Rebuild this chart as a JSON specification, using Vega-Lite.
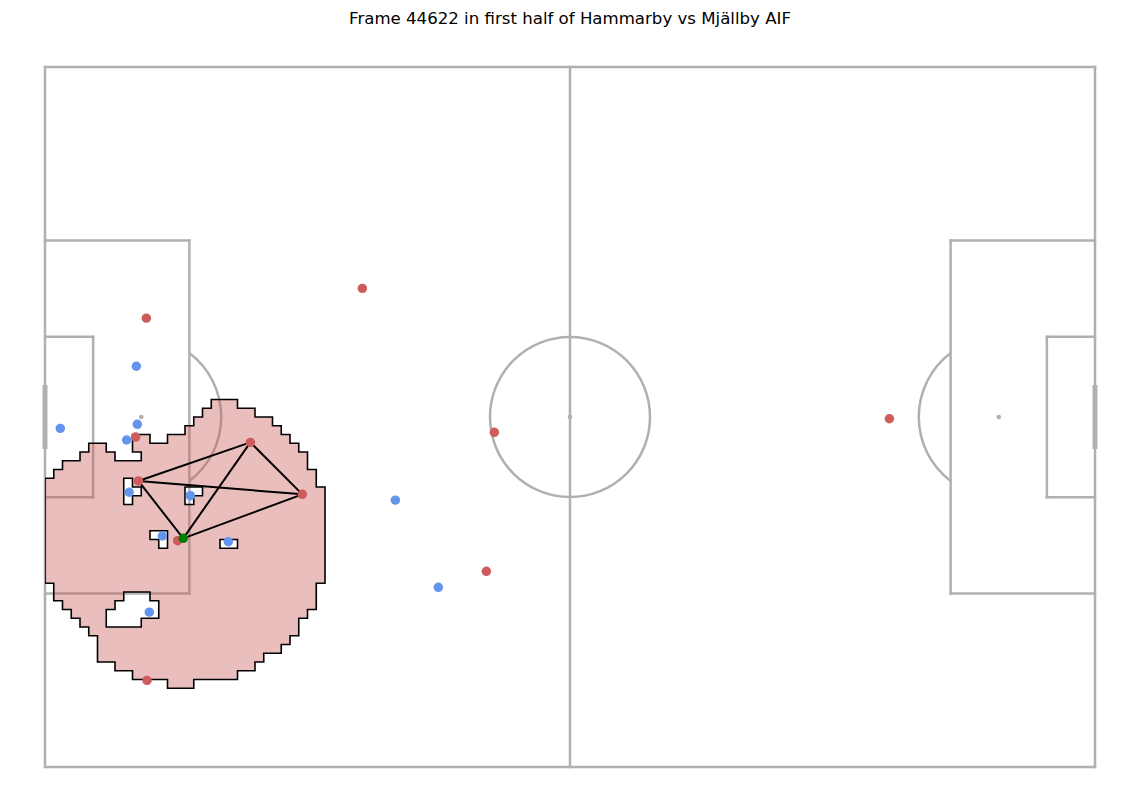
{
  "$schema": "https://vega.github.io/schema/vega-lite/v6.json",
  "width": 1050,
  "height": 700,
  "autosize": {"type": "none"},
  "padding": {"left": 45, "top": 67, "right": 44, "bottom": 45},
  "background": "white",
  "title": {"text": "Frame 44622 in first half of Hammarby vs Mjällby AIF", "font": "DejaVu Sans", "fontSize": 16.6, "fontWeight": "normal", "color": "black", "anchor": "middle", "offset": 38},
  "config": {"view": {"stroke": null}},
  "datasets": {
    "lines": [
      {"x": 0, "y": 0, "x2": 120, "y2": 0},
      {"x": 0, "y": 80, "x2": 120, "y2": 80},
      {"x": 0, "y": 0, "x2": 0, "y2": 80},
      {"x": 120, "y": 0, "x2": 120, "y2": 80},
      {"x": 60, "y": 0, "x2": 60, "y2": 80},
      {"x": 0, "y": 19.84, "x2": 16.5, "y2": 19.84},
      {"x": 16.5, "y": 19.84, "x2": 16.5, "y2": 60.16},
      {"x": 0, "y": 60.16, "x2": 16.5, "y2": 60.16},
      {"x": 0, "y": 30.84, "x2": 5.5, "y2": 30.84},
      {"x": 5.5, "y": 30.84, "x2": 5.5, "y2": 49.16},
      {"x": 0, "y": 49.16, "x2": 5.5, "y2": 49.16},
      {"x": 103.5, "y": 19.84, "x2": 120, "y2": 19.84},
      {"x": 103.5, "y": 19.84, "x2": 103.5, "y2": 60.16},
      {"x": 103.5, "y": 60.16, "x2": 120, "y2": 60.16},
      {"x": 114.5, "y": 30.84, "x2": 120, "y2": 30.84},
      {"x": 114.5, "y": 30.84, "x2": 114.5, "y2": 49.16},
      {"x": 114.5, "y": 49.16, "x2": 120, "y2": 49.16}
    ],
    "goals": [
      {"x": 0, "y": 36.34, "x2": 0, "y2": 43.66},
      {"x": 120, "y": 36.34, "x2": 120, "y2": 43.66}
    ],
    "circles": [
      {"x": 60, "y": 40, "part": "centre circle"},
      {"x": 11, "y": 40, "part": "left arc"},
      {"x": 109, "y": 40, "part": "right arc"}
    ],
    "spots": [
      {"x": 60, "y": 40},
      {"x": 11, "y": 40},
      {"x": 109, "y": 40}
    ],
    "zone": [
      {"type": "Feature", "properties": {}, "geometry": {"type": "Polygon", "coordinates": [
        [[19,38],[22,38],[22,39],[24,39],[24,40],[26,40],[26,41],[27,41],[27,42],[28,42],[28,43],[29,43],[29,44],[30,44],[30,46],[31,46],[31,48],[32,48],[32,59],[31,59],[31,62],[30,62],[30,63],[29,63],[29,65],[28,65],[28,66],[27,66],[27,67],[25,67],[25,68],[24,68],[24,69],[22,69],[22,70],[17,70],[17,71],[14,71],[14,70],[10,70],[10,69],[8,69],[8,68],[6,68],[6,65],[5,65],[5,64],[4,64],[4,63],[3,63],[3,62],[2,62],[2,61],[1,61],[1,59],[0,59],[0,47],[1,47],[1,46],[2,46],[2,45],[4,45],[4,44],[5,44],[5,43],[7,43],[7,44],[8,44],[8,45],[11,45],[11,44],[10,44],[10,42],[12,42],[12,43],[14,43],[14,42],[16,42],[16,41],[17,41],[17,40],[18,40],[18,39],[19,39],[19,38]],
        [[9,47],[9,50],[10,50],[10,49],[11,49],[11,48],[10,48],[10,47],[9,47]],
        [[16,48],[16,50],[17,50],[17,49],[18,49],[18,48],[16,48]],
        [[12,53],[12,54],[13,54],[13,55],[14,55],[14,53],[12,53]],
        [[20,54],[20,55],[22,55],[22,54],[20,54]],
        [[9,60],[9,61],[8,61],[8,62],[7,62],[7,64],[11,64],[11,63],[13,63],[13,61],[12,61],[12,60],[9,60]]
      ]}}
    ],
    "links": [
      {"x": 10.67, "y": 47.31, "x2": 23.47, "y2": 42.9},
      {"x": 10.67, "y": 47.31, "x2": 29.41, "y2": 48.84},
      {"x": 23.47, "y": 42.9, "x2": 29.41, "y2": 48.84},
      {"x": 10.67, "y": 47.31, "x2": 15.8, "y2": 53.87},
      {"x": 23.47, "y": 42.9, "x2": 15.8, "y2": 53.87},
      {"x": 29.41, "y": 48.84, "x2": 15.8, "y2": 53.87}
    ],
    "players": [
      {"x": 11.58, "y": 28.7, "team": "in possession"},
      {"x": 36.27, "y": 25.3, "team": "in possession"},
      {"x": 10.36, "y": 42.29, "team": "in possession"},
      {"x": 10.67, "y": 47.31, "team": "in possession"},
      {"x": 23.47, "y": 42.9, "team": "in possession"},
      {"x": 29.41, "y": 48.84, "team": "in possession"},
      {"x": 15.16, "y": 54.13, "team": "in possession"},
      {"x": 51.35, "y": 41.75, "team": "in possession"},
      {"x": 50.44, "y": 57.64, "team": "in possession"},
      {"x": 96.5, "y": 40.2, "team": "in possession"},
      {"x": 11.66, "y": 70.1, "team": "in possession"},
      {"x": 10.44, "y": 34.2, "team": "defending"},
      {"x": 1.75, "y": 41.3, "team": "defending"},
      {"x": 10.55, "y": 40.84, "team": "defending"},
      {"x": 9.33, "y": 42.63, "team": "defending"},
      {"x": 9.62, "y": 48.6, "team": "defending"},
      {"x": 16.61, "y": 48.99, "team": "defending"},
      {"x": 13.41, "y": 53.6, "team": "defending"},
      {"x": 20.95, "y": 54.25, "team": "defending"},
      {"x": 11.92, "y": 62.3, "team": "defending"},
      {"x": 40.04, "y": 49.5, "team": "defending"},
      {"x": 44.95, "y": 59.47, "team": "defending"}
    ],
    "ball": [
      {"x": 15.8, "y": 53.87}
    ]
  },
  "layer": [
    {
      "data": {"name": "lines"},
      "mark": {"type": "rule", "color": "#b0b0b0", "strokeWidth": 2.5, "strokeCap": "square"},
      "encoding": {
        "x": {"field": "x", "type": "quantitative", "scale": {"domain": [0, 120], "nice": false, "zero": false}, "axis": null},
        "y": {"field": "y", "type": "quantitative", "scale": {"domain": [0, 80], "nice": false, "zero": false, "reverse": true}, "axis": null},
        "x2": {"field": "x2"},
        "y2": {"field": "y2"}
      }
    },
    {
      "data": {"name": "goals"},
      "mark": {"type": "rule", "color": "#b0b0b0", "strokeWidth": 5, "strokeCap": "butt"},
      "encoding": {
        "x": {"field": "x", "type": "quantitative", "scale": {"domain": [0, 120], "nice": false, "zero": false}, "axis": null},
        "y": {"field": "y", "type": "quantitative", "scale": {"domain": [0, 80], "nice": false, "zero": false, "reverse": true}, "axis": null},
        "x2": {"field": "x2"},
        "y2": {"field": "y2"}
      }
    },
    {
      "data": {"name": "circles"},
      "mark": {"type": "point", "filled": false, "size": 25600, "strokeWidth": 2.5, "opacity": 1, "color": "#b0b0b0"},
      "encoding": {
        "x": {"field": "x", "type": "quantitative", "scale": {"domain": [0, 120], "nice": false, "zero": false}, "axis": null},
        "y": {"field": "y", "type": "quantitative", "scale": {"domain": [0, 80], "nice": false, "zero": false, "reverse": true}, "axis": null},
        "shape": {"field": "part", "type": "nominal", "legend": null, "scale": {"domain": ["centre circle", "left arc", "right arc"], "range": ["circle", "M 0.601 -0.799 A 1 1 0 0 1 0.601 0.799", "M -0.601 -0.799 A 1 1 0 0 0 -0.601 0.799"]}}
      }
    },
    {
      "data": {"name": "spots"},
      "mark": {"type": "point", "filled": true, "size": 22, "opacity": 1, "color": "#b0b0b0"},
      "encoding": {
        "x": {"field": "x", "type": "quantitative", "scale": {"domain": [0, 120], "nice": false, "zero": false}, "axis": null},
        "y": {"field": "y", "type": "quantitative", "scale": {"domain": [0, 80], "nice": false, "zero": false, "reverse": true}, "axis": null}
      }
    },
    {
      "data": {"name": "zone"},
      "projection": {"type": "identity", "scale": 8.75, "translate": [0, 0]},
      "mark": {"type": "geoshape", "fill": "#cd5c5c", "fillOpacity": 0.4, "stroke": "black", "strokeWidth": 1.6}
    },
    {
      "data": {"name": "links"},
      "mark": {"type": "rule", "color": "black", "strokeWidth": 2},
      "encoding": {
        "x": {"field": "x", "type": "quantitative", "scale": {"domain": [0, 120], "nice": false, "zero": false}, "axis": null},
        "y": {"field": "y", "type": "quantitative", "scale": {"domain": [0, 80], "nice": false, "zero": false, "reverse": true}, "axis": null},
        "x2": {"field": "x2"},
        "y2": {"field": "y2"}
      }
    },
    {
      "data": {"name": "players"},
      "mark": {"type": "point", "filled": true, "size": 90, "opacity": 1},
      "encoding": {
        "x": {"field": "x", "type": "quantitative", "scale": {"domain": [0, 120], "nice": false, "zero": false}, "axis": null},
        "y": {"field": "y", "type": "quantitative", "scale": {"domain": [0, 80], "nice": false, "zero": false, "reverse": true}, "axis": null},
        "color": {"field": "team", "type": "nominal", "legend": null, "scale": {"domain": ["in possession", "defending"], "range": ["#cd5c5c", "#6495ed"]}}
      }
    },
    {
      "data": {"name": "ball"},
      "mark": {"type": "point", "filled": true, "size": 90, "opacity": 1, "color": "#008000"},
      "encoding": {
        "x": {"field": "x", "type": "quantitative", "scale": {"domain": [0, 120], "nice": false, "zero": false}, "axis": null},
        "y": {"field": "y", "type": "quantitative", "scale": {"domain": [0, 80], "nice": false, "zero": false, "reverse": true}, "axis": null}
      }
    }
  ]
}
